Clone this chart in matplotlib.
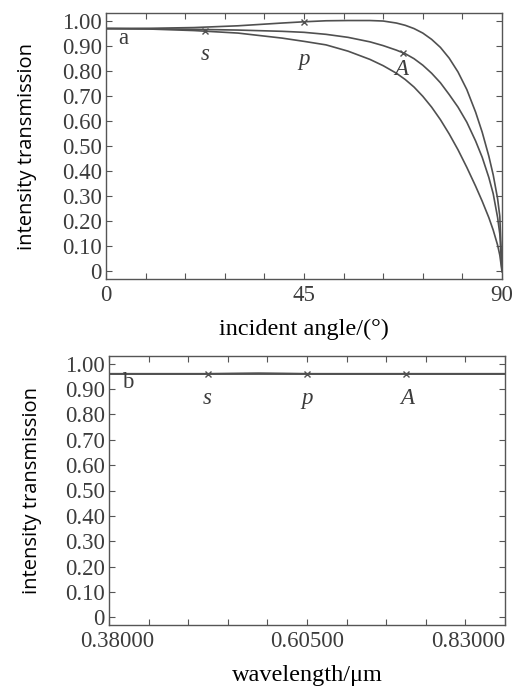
import matplotlib
matplotlib.use("Agg")
import matplotlib.pyplot as plt
import matplotlib.transforms as mtransforms
import numpy as np

# ---- data (panel a: transmission vs incident angle) ----
angle = [0, 10, 20, 30, 40, 45, 50, 55, 60, 63, 66, 68, 70, 72, 74, 76, 78, 80, 82, 84, 85.5, 87, 88, 89, 89.5, 90]
T_p = [0.968, 0.969, 0.972, 0.979, 0.990, 0.995, 0.999, 1.000, 1.000, 0.998, 0.990, 0.981, 0.968, 0.950, 0.925, 0.893, 0.850, 0.795, 0.725, 0.635, 0.555, 0.460, 0.385, 0.290, 0.220, 0.0]
T_A = [0.968, 0.967, 0.965, 0.962, 0.957, 0.953, 0.945, 0.933, 0.915, 0.900, 0.882, 0.868, 0.848, 0.822, 0.790, 0.752, 0.705, 0.655, 0.595, 0.520, 0.455, 0.375, 0.310, 0.215, 0.150, 0.0]
T_s = [0.968, 0.966, 0.960, 0.950, 0.930, 0.917, 0.903, 0.878, 0.845, 0.820, 0.790, 0.765, 0.735, 0.698, 0.655, 0.605, 0.548, 0.485, 0.415, 0.340, 0.280, 0.215, 0.165, 0.105, 0.065, 0.0]
mark_angle = [22.5, 45, 67.5]

# ---- data (panel b: transmission vs wavelength) ----
wavelength = [0.38, 0.4925, 0.55, 0.605, 0.7175, 0.83]
Tw_s = [0.960, 0.960, 0.960, 0.960, 0.960, 0.960]
Tw_p = [0.960, 0.960, 0.962, 0.960, 0.960, 0.960]
Tw_A = [0.960, 0.960, 0.961, 0.960, 0.960, 0.960]
mark_wl = [0.4925, 0.605, 0.7175]

yticks = [0, 0.1, 0.2, 0.3, 0.4, 0.5, 0.6, 0.7, 0.8, 0.9, 1.0]
ytick_labels = ["0"] + ["%.2f" % v for v in yticks[1:]]

ink = "#3c3c3c"
serif = ["Liberation Serif", "DejaVu Serif"]
sans = ["Open Sans", "DejaVu Sans"]
fs_tick = 16.5
fs_lab = 17.5
fs_ylab = 14.5

plt.rcParams["font.family"] = serif
plt.rcParams["text.color"] = ink
plt.rcParams["axes.edgecolor"] = "#555555"
plt.rcParams["xtick.color"] = "#555555"
plt.rcParams["ytick.color"] = "#555555"
plt.rcParams["xtick.labelcolor"] = ink
plt.rcParams["ytick.labelcolor"] = ink

fig = plt.figure(figsize=(5.26, 6.86), dpi=100)
ax1 = fig.add_axes([106/526, 1-279/686, 396/526, 266/686])
ax2 = fig.add_axes([109/526, 1-625/686, 396/526, 269/686])

lc = "#505050"
lw = 1.2

def style(ax):
    ax.set_ylim(-0.03, 1.03)
    ax.set_yticks(yticks)
    ax.set_yticklabels(ytick_labels, fontsize=fs_tick)
    ax.tick_params(which="both", direction="in", top=True, right=True, length=4, width=0.8, pad=3)
    ax.tick_params(axis="x", labelsize=fs_tick, pad=4)
    for s in ax.spines.values():
        s.set_linewidth(1.0)

# panel a
ax1.plot(angle, T_p, color=lc, lw=lw)
ax1.plot(angle, T_A, color=lc, lw=lw)
ax1.plot(angle, T_s, color=lc, lw=lw)
ax1.plot([mark_angle[0]], [np.interp(mark_angle[0], angle, T_s)], "x", color=lc, ms=5, mew=1)
ax1.plot([mark_angle[1]], [np.interp(mark_angle[1], angle, T_p)], "x", color=lc, ms=5, mew=1)
ax1.plot([mark_angle[2]], [np.interp(mark_angle[2], angle, T_A)], "x", color=lc, ms=5, mew=1)
ax1.set_xlim(0, 90)
ax1.set_xticks([0, 45, 90])
ax1.set_xticks(np.arange(0, 91, 9), minor=True)
style(ax1)
ax1.set_xlabel("incident angle/(°)", fontsize=fs_lab)
ax1.xaxis.set_label_coords(0.5, -0.150)
ax1.set_ylabel("intensity transmission", family=sans, fontsize=fs_ylab)
ax1.yaxis.set_label_coords(-0.175, 0.5)
ax1.text(3.9, 0.93, "a", fontsize=fs_tick, ha="center", va="center")
ax1.text(22.5, 0.865, "s", fontsize=fs_tick, style="italic", ha="center", va="center")
ax1.text(45, 0.845, "p", fontsize=fs_tick, style="italic", ha="center", va="center")
ax1.text(67.2, 0.805, "A", fontsize=fs_tick, style="italic", ha="center", va="center")

# panel b
ax2.plot(wavelength, Tw_s, color=lc, lw=lw)
ax2.plot(wavelength, Tw_p, color=lc, lw=lw)
ax2.plot(wavelength, Tw_A, color=lc, lw=lw)
for xm in mark_wl:
    ax2.plot([xm], [np.interp(xm, wavelength, Tw_s)], "x", color=lc, ms=5, mew=1)
ax2.set_xlim(0.38, 0.83)
ax2.set_xticks([0.38, 0.605, 0.83])
ax2.set_xticklabels(["0.38000", "0.60500", "0.83000"])
ax2.set_xticks(np.linspace(0.38, 0.83, 11), minor=True)
style(ax2)
labs = ax2.get_xticklabels()
labs[0].set_horizontalalignment("center")
labs[0].set_transform(labs[0].get_transform() + mtransforms.ScaledTranslation(8/100, 0, fig.dpi_scale_trans))
labs[2].set_horizontalalignment("right")
ax2.set_xlabel("wavelength/μm", fontsize=fs_lab)
ax2.xaxis.set_label_coords(0.5, -0.149)
ax2.set_ylabel("intensity transmission", family=sans, fontsize=fs_ylab)
ax2.yaxis.set_label_coords(-0.169, 0.5)
ax2.text(0.4016, 0.926, "b", fontsize=fs_tick, ha="center", va="center")
ax2.text(0.4914, 0.863, "s", fontsize=fs_tick, style="italic", ha="center", va="center")
ax2.text(0.605, 0.863, "p", fontsize=fs_tick, style="italic", ha="center", va="center")
ax2.text(0.7187, 0.863, "A", fontsize=fs_tick, style="italic", ha="center", va="center")

fig.savefig("out.png", dpi=100)
